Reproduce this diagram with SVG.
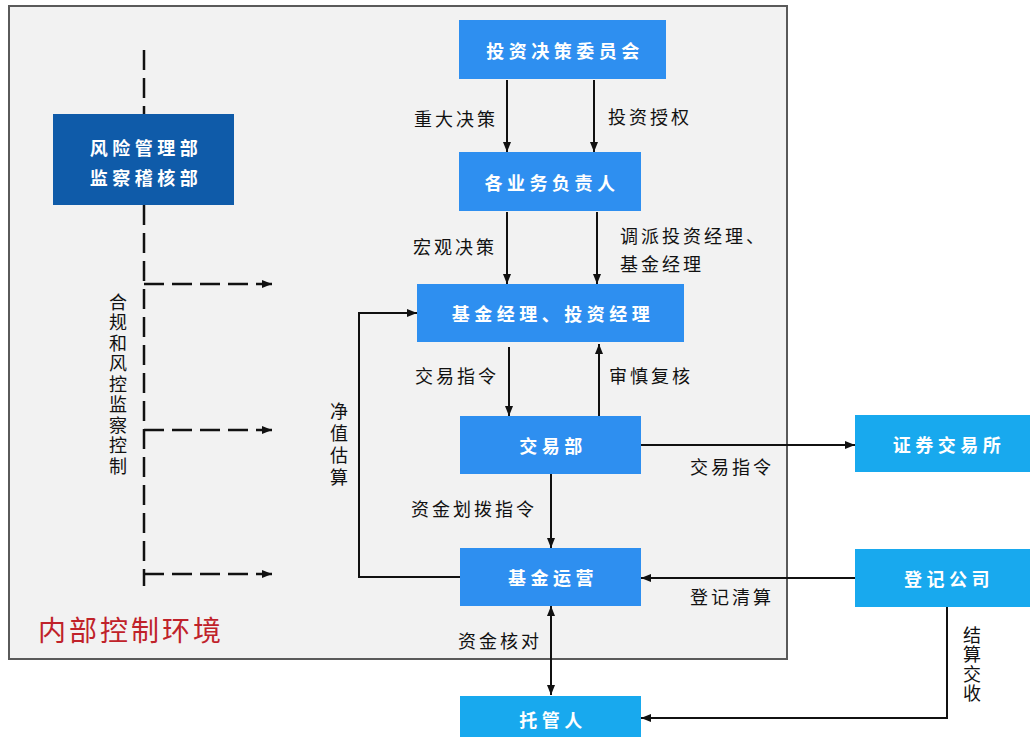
<svg xmlns="http://www.w3.org/2000/svg" width="1030" height="737" viewBox="0 0 1030 737">
<style>
.n{font-family:"Noto Sans CJK SC","Noto Sans CJK JP",sans-serif;font-weight:bold;fill:#fff;font-size:18px;letter-spacing:4.5px;text-anchor:middle;dominant-baseline:central}
.l{font-family:"Noto Sans CJK SC","Noto Sans CJK JP",sans-serif;fill:#111;font-size:18px;letter-spacing:3px}
.v{font-family:"Noto Sans CJK SC","Noto Sans CJK JP",sans-serif;fill:#111;font-size:18px;writing-mode:vertical-rl}
.mid{fill:#2e8ff0}
.ext{fill:#18a9ee}
.c{stroke:#111;stroke-width:2;fill:none}
.d{stroke:#111;stroke-width:2.5;fill:none;stroke-dasharray:20 8}
</style>
<defs>
<marker id="a" viewBox="0 0 10 10" refX="10" refY="5" markerWidth="10" markerHeight="10" markerUnits="userSpaceOnUse" orient="auto-start-reverse">
<path d="M0,1 L10,5 L0,9 Z" fill="#111"/>
</marker>
</defs>
<rect x="0" y="0" width="1030" height="737" fill="#fff"/>
<rect id="env" x="9" y="6" width="778" height="653" fill="#f2f2f2" stroke="#5a5a5a" stroke-width="2"/>
<text x="38" y="641" font-family="Noto Sans CJK SC, sans-serif" font-size="28" fill="#c0222a" letter-spacing="3">内部控制环境</text>

<g id="connectors">
<path class="d" d="M144,50 V114"/>
<path class="d" d="M144,205 V586"/>
<path class="d" d="M144,284 H272" marker-end="url(#a)"/>
<path class="d" d="M144,430 H272" marker-end="url(#a)"/>
<path class="d" d="M144,574 H272" marker-end="url(#a)"/>
<path class="c" d="M507,80 V152" marker-end="url(#a)"/>
<path class="c" d="M594,80 V152" marker-end="url(#a)"/>
<path class="c" d="M507,212 V284" marker-end="url(#a)"/>
<path class="c" d="M597,212 V284" marker-end="url(#a)"/>
<path class="c" d="M509,347 V416" marker-end="url(#a)"/>
<path class="c" d="M599,416 V344" marker-end="url(#a)"/>
<path class="c" d="M460,577 H359 V313 H417" marker-end="url(#a)"/>
<path class="c" d="M641,445 H855" marker-end="url(#a)"/>
<path class="c" d="M551,474 V548" marker-end="url(#a)"/>
<path class="c" d="M855,578 H641" marker-end="url(#a)"/>
<path class="c" d="M551,606 V695" marker-start="url(#a)" marker-end="url(#a)"/>
<path class="c" d="M947,607 V718 H641" marker-end="url(#a)"/>
</g>

<g id="labels">
<text class="l" x="414" y="126">重大决策</text>
<text class="l" x="608" y="124">投资授权</text>
<text class="l" x="413" y="254">宏观决策</text>
<text class="l" x="620" y="243">调派投资经理、</text>
<text class="l" x="620" y="271">基金经理</text>
<text class="l" x="415" y="383">交易指令</text>
<text class="l" x="609" y="383">审慎复核</text>
<text class="l" x="690" y="474">交易指令</text>
<text class="l" x="411" y="516">资金划拨指令</text>
<text class="l" x="690" y="604">登记清算</text>
<text class="l" x="458" y="648" letter-spacing="1">资金核对</text>
<text class="v" x="118" y="293" font-size="19" letter-spacing="2.5">合规和风控监察控制</text>
<text class="v" x="339" y="402" letter-spacing="4">净值估算</text>
<text class="v" x="972" y="626" letter-spacing="1.5">结算交收</text>
</g>

<g id="risk"><rect x="53" y="114" width="181" height="91" fill="#0f5ba9"/>
<text class="n" x="146" y="147" font-size="19" letter-spacing="5">风险管理部</text>
<text class="n" x="146" y="177" font-size="19" letter-spacing="5">监察稽核部</text></g>
<g id="committee"><rect class="mid" x="459" y="20" width="207" height="59"/><text class="n" x="565" y="50">投资决策委员会</text></g>
<g id="heads"><rect class="mid" x="459" y="152" width="182" height="59"/><text class="n" x="552" y="182">各业务负责人</text></g>
<g id="managers"><rect class="mid" x="417" y="284" width="267" height="58"/><text class="n" x="553" y="313">基金经理、投资经理</text></g>
<g id="trading"><rect class="mid" x="460" y="416" width="181" height="58"/><text class="n" x="553" y="445" letter-spacing="6">交易部</text></g>
<g id="operations"><rect class="mid" x="460" y="548" width="181" height="58"/><text class="n" x="553" y="577">基金运营</text></g>
<g id="custodian"><rect class="ext" x="460" y="696" width="181" height="58"/><text class="n" x="553" y="719">托管人</text></g>
<g id="exchange"><rect class="ext" x="855" y="415" width="185" height="57"/><text class="n" x="949" y="444">证券交易所</text></g>
<g id="registrar"><rect class="ext" x="855" y="549" width="185" height="58"/><text class="n" x="949" y="578">登记公司</text></g>
</svg>
